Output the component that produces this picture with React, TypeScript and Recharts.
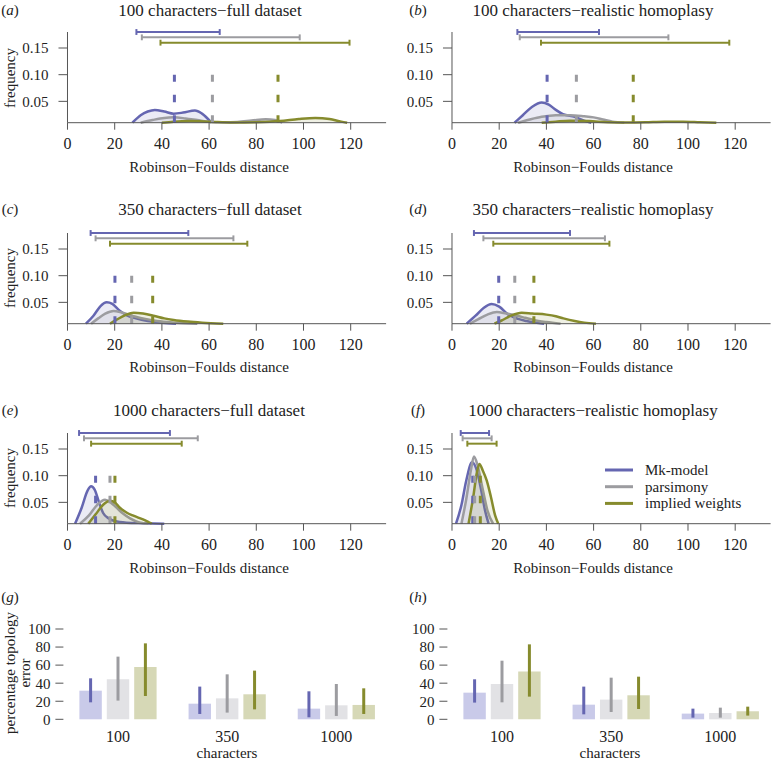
import { ComposedChart, Area, XAxis, YAxis, ReferenceLine, BarChart, Bar, ErrorBar } from "recharts";

const FONT = "'Liberation Serif', 'Times New Roman', serif";
const BLUE = "#6566b1";
const GRAY = "#9c9ca0";
const OLIVE = "#868b2d";
const COLORS = [BLUE, GRAY, OLIVE];
const BAR_FILLS = ["#c9cae9", "#e2e2e5", "#d6d8b6"];
const AXIS = "#555";
const INK = "#222";

const SERIES = ["Mk-model", "parsimony", "implied weights"];
const KEYS = ["mk", "pars", "iw"];
const X_TICKS = [0, 20, 40, 60, 80, 100, 120];
const Y_TICKS = [0.05, 0.1, 0.15];
const BAR_TICKS = [0, 20, 40, 60, 80, 100];
const RANGE_LEVELS = [0.18, 0.17, 0.16];

// density curves, [distance, frequency]
const aMk = [[27.5, 0.01], [31, 0.024], [34, 0.031], [37, 0.034], [41, 0.031], [45, 0.027], [49, 0.029], [54, 0.033], [57, 0.027], [61, 0.01]];
const aPars = [[31, 0.01], [36, 0.015], [41, 0.019], [45, 0.02], [50, 0.018], [55, 0.015], [60, 0.012], [66, 0.011], [72, 0.0115], [78, 0.014], [84, 0.0165], [88, 0.015], [91, 0.01]];
const aIw = [[40, 0.01], [45, 0.012], [52, 0.013], [60, 0.012], [70, 0.0105], [80, 0.011], [90, 0.013], [98, 0.017], [105, 0.019], [111, 0.017], [116, 0.012], [118.5, 0.01]];
const aRanges = [[29.2, 64.5], [31.5, 98.4], [39.4, 119.5]];
const aMedians = [45.3, 61.4, 89.2];

const bMk = [[26.5, 0.01], [30, 0.024], [34, 0.04], [38, 0.048], [41, 0.044], [44, 0.034], [47, 0.026], [52, 0.021], [56, 0.014], [59, 0.01]];
const bPars = [[28, 0.01], [33, 0.016], [38, 0.021], [44, 0.024], [50, 0.024], [56, 0.022], [60, 0.02], [64, 0.016], [68, 0.012], [73, 0.01]];
const bIw = [[38, 0.01], [44, 0.012], [50, 0.0135], [58, 0.013], [66, 0.011], [74, 0.0105], [82, 0.011], [90, 0.012], [98, 0.012], [105, 0.011], [112, 0.01]];
const bRanges = [[27.7, 62.3], [28.7, 91.7], [37.7, 117.5]];
const bMedians = [40.3, 52.7, 76.8];

const cMk = [[7.8, 0.01], [11, 0.025], [14, 0.043], [16.6, 0.05], [19, 0.047], [22, 0.035], [25, 0.026], [29, 0.02], [34, 0.015], [40, 0.012], [46, 0.01]];
const cPars = [[10, 0.01], [13, 0.02], [16, 0.029], [19.5, 0.034], [23, 0.031], [28, 0.024], [33, 0.019], [38, 0.015], [45, 0.012], [55, 0.01]];
const cIw = [[18, 0.01], [21, 0.018], [24.5, 0.026], [28, 0.0305], [32, 0.029], [36.5, 0.025], [41, 0.02], [45, 0.017], [51, 0.014], [57, 0.012], [66, 0.01]];
const cRanges = [[9.8, 51.2], [11.9, 70.3], [18, 76.2]];
const cMedians = [20.1, 27.2, 36.1];

const dMk = [[6.2, 0.01], [10, 0.025], [13.5, 0.04], [16.8, 0.047], [20, 0.042], [23.9, 0.027], [28, 0.019], [31.6, 0.015], [35, 0.012], [39, 0.01]];
const dPars = [[7.6, 0.01], [11, 0.018], [15, 0.027], [19, 0.032], [23, 0.029], [27.5, 0.025], [31, 0.021], [34.5, 0.017], [40, 0.013], [46, 0.01]];
const dIw = [[18, 0.01], [21, 0.016], [25, 0.025], [29.5, 0.0305], [34, 0.029], [40, 0.027], [44, 0.024], [47.2, 0.02], [52, 0.015], [56, 0.012], [61, 0.01]];
const dRanges = [[9.3, 50], [13.3, 64.8], [17.5, 66.7]];
const dMedians = [19.8, 26.6, 34.7];

const eMk = [[3.2, 0.01], [6, 0.04], [8.5, 0.072], [10, 0.08], [11.5, 0.074], [13.5, 0.048], [15.1, 0.03], [17.5, 0.02], [20, 0.015], [25, 0.012], [32, 0.011], [41, 0.01]];
const ePars = [[5.3, 0.01], [9, 0.025], [12.5, 0.045], [15.9, 0.055], [18.5, 0.049], [20.8, 0.04], [23.5, 0.029], [26.5, 0.02], [30.7, 0.012], [34.2, 0.01]];
const eIw = [[8.8, 0.01], [12, 0.028], [15, 0.045], [18, 0.053], [20, 0.05], [22.2, 0.04], [25, 0.031], [27.9, 0.025], [32, 0.018], [34, 0.014], [35.7, 0.01]];
const eRanges = [[4.9, 43.4], [7, 55.2], [10, 48.4]];
const eMedians = [11.9, 18, 20.1];

const fMk = [[1.7, 0.01], [4, 0.045], [6, 0.09], [8.5, 0.125], [10.5, 0.11], [12.5, 0.07], [14, 0.035], [15.5, 0.01]];
const fPars = [[4, 0.01], [6, 0.055], [8, 0.11], [9.3, 0.136], [10.8, 0.12], [13, 0.075], [15, 0.035], [17.4, 0.01]];
const fIw = [[7, 0.01], [9, 0.06], [10.5, 0.105], [11.6, 0.122], [13, 0.11], [14.7, 0.091], [16.5, 0.06], [18.3, 0.025], [19.6, 0.01]];
const fRanges = [[3.7, 15.7], [4.5, 16.8], [6.5, 18.9]];
const fMedians = [8.8, 9.6, 12];

// percentage topology error
const CATEGORIES = ["100", "350", "1000"];
const gMk = [31.7, 17.3, 11.8];
const gPars = [44.3, 23.2, 15.5];
const gIw = [57.9, 27.7, 15.9];
const gLow = [[18.8, 5.9, 2.2], [20.7, 7.4, 3.7], [25.8, 11, 5.9]];
const gHigh = [[45.4, 36.2, 31], [69.4, 49.8, 39.1], [84.1, 53.9, 34.3]];

const hMk = [29.5, 16.2, 6.3];
const hPars = [39.1, 21.8, 7];
const hIw = [52.8, 26.6, 8.9];
const hLow = [[18.5, 5.5, 1.8], [18.8, 8.1, 1.8], [25.1, 11.4, 4.1]];
const hHigh = [[44.3, 36.2, 11.8], [64.9, 46.1, 12.9], [83, 47.2, 14]];

function buildRows(series: number[][][]) {
  const xs = Array.from(new Set(series.flatMap((s) => s.map((p) => p[0])))).sort((a, b) => a - b);
  return xs.map((x) => {
    const row: any = { x };
    series.forEach((s, i) => {
      const p = s.find((q) => q[0] === x);
      row[KEYS[i]] = p ? p[1] : null;
    });
    return row;
  });
}

function buildBarRows(values: number[][], low: number[][], high: number[][]) {
  return CATEGORIES.map((cat, j) => {
    const row: any = { cat };
    KEYS.forEach((k, i) => {
      row[k] = values[i][j];
      row[k + "Err"] = [values[i][j] - low[i][j], high[i][j] - values[i][j]];
    });
    return row;
  });
}

const tickFont = (size: number) => ({ fill: INK, fontSize: size, fontFamily: FONT });

function DensityPanel({ left, top, axisWidth, series, ranges, medians }: any) {
  const rows = buildRows(series);
  const plotWidth = 318.6;
  return (
    <div style={{ position: "absolute", left, top, fontFamily: FONT }}>
      <ComposedChart width={axisWidth + plotWidth + 1} height={200} data={rows} margin={{ top: 32, right: 1, bottom: 0, left: 0 }}
        style={{ fontFamily: FONT }}>
        <XAxis dataKey="x" type="number" domain={[0, 135]} ticks={X_TICKS} interval={0} height={77.3} tickSize={7} tickMargin={8}
          stroke={AXIS} tick={tickFont(16)} />
        <YAxis type="number" domain={[0.01, 0.18]} ticks={Y_TICKS} interval={0} width={axisWidth} tickSize={9} tickMargin={10}
          stroke={AXIS} tickFormatter={(v: number) => v.toFixed(2)} tick={tickFont(15)} />
        {KEYS.map((k, i) => (
          <Area key={k} dataKey={k} type="monotone" stroke={COLORS[i]} strokeWidth={2.5} fill={COLORS[i]} fillOpacity={0.13}
            connectNulls dot={false} activeDot={false} isAnimationActive={false} />
        ))}
        {ranges.map(([lo, hi]: number[], i: number) => (
          <ReferenceLine key={"r" + i} segment={[{ x: lo, y: RANGE_LEVELS[i] }, { x: hi, y: RANGE_LEVELS[i] }]}
            stroke={COLORS[i]} strokeWidth={2} ifOverflow="visible" />
        ))}
        {ranges.flatMap(([lo, hi]: number[], i: number) =>
          [lo, hi].map((v, j) => (
            <ReferenceLine key={"c" + i + j} segment={[{ x: v, y: RANGE_LEVELS[i] - 0.0055 }, { x: v, y: RANGE_LEVELS[i] + 0.0055 }]}
              stroke={COLORS[i]} strokeWidth={2} ifOverflow="visible" />
          ))
        )}
        {medians.map((m: number, i: number) => (
          <ReferenceLine key={"m" + i} segment={[{ x: m, y: 0.01 }, { x: m, y: 0.1 }]} stroke={COLORS[i]} strokeWidth={3}
            strokeDasharray="7.5 13" ifOverflow="visible" />
        ))}
      </ComposedChart>
    </div>
  );
}

function BarPanel({ left, top, rows }: any) {
  return (
    <div style={{ position: "absolute", left, top, fontFamily: FONT }}>
      <BarChart width={395} height={161} data={rows} margin={{ top: 29, right: 4.1, bottom: 0, left: 0 }} barSize={22.4} barGap={5}
        style={{ fontFamily: FONT }}>
        <XAxis dataKey="cat" height={41.7} interval={0} axisLine={false} tickLine={false} tickSize={0} tickMargin={11}
          tick={tickFont(16)} />
        <YAxis type="number" domain={[0, 100]} ticks={BAR_TICKS} interval={0} width={63.4} axisLine={false} tickSize={8} tickMargin={5}
          stroke={AXIS} tick={tickFont(15)} />
        {KEYS.map((k, i) => (
          <Bar key={k} dataKey={k} fill={BAR_FILLS[i]} isAnimationActive={false}>
            <ErrorBar dataKey={k + "Err"} width={0} stroke={COLORS[i]} strokeWidth={3} />
          </Bar>
        ))}
      </BarChart>
    </div>
  );
}

function PanelLabel({ x, y, letter }: any) {
  return (
    <text x={x} y={y} textAnchor="middle" dominantBaseline="central" fontSize={15} fill={INK}>
      (<tspan fontStyle="italic">{letter}</tspan>)
    </text>
  );
}

export default function App() {
  const titles = [
    { x: 210, y: 10, t: "100 characters\u2212full dataset" },
    { x: 593, y: 10, t: "100 characters\u2212realistic homoplasy" },
    { x: 210, y: 209, t: "350 characters\u2212full dataset" },
    { x: 593, y: 209, t: "350 characters\u2212realistic homoplasy" },
    { x: 209, y: 410, t: "1000 characters\u2212full dataset" },
    { x: 593, y: 410, t: "1000 characters\u2212realistic homoplasy" },
  ];
  const rowTops = [0, 200.5, 401];
  return (
    <div style={{ position: "absolute", left: 0, top: 0, width: 771, height: 761, overflow: "hidden", background: "#fff", fontFamily: FONT }}>
      <style>{`svg text, svg tspan { font-family: ${FONT}; }`}</style>
      <DensityPanel left={0} top={rowTops[0]} axisWidth={67.5} series={[aMk, aPars, aIw]} ranges={aRanges} medians={aMedians} />
      <DensityPanel left={385} top={rowTops[0]} axisWidth={67} series={[bMk, bPars, bIw]} ranges={bRanges} medians={bMedians} />
      <DensityPanel left={0} top={rowTops[1]} axisWidth={67.5} series={[cMk, cPars, cIw]} ranges={cRanges} medians={cMedians} />
      <DensityPanel left={385} top={rowTops[1]} axisWidth={67} series={[dMk, dPars, dIw]} ranges={dRanges} medians={dMedians} />
      <DensityPanel left={0} top={rowTops[2]} axisWidth={67.5} series={[eMk, ePars, eIw]} ranges={eRanges} medians={eMedians} />
      <DensityPanel left={385} top={rowTops[2]} axisWidth={67} series={[fMk, fPars, fIw]} ranges={fRanges} medians={fMedians} />
      <BarPanel left={0} top={600} rows={buildBarRows([gMk, gPars, gIw], gLow, gHigh)} />
      <BarPanel left={383.7} top={600} rows={buildBarRows([hMk, hPars, hIw], hLow, hHigh)} />
      <svg width={771} height={761} style={{ position: "absolute", left: 0, top: 0, pointerEvents: "none" }} fontFamily={FONT}>
        {titles.map((d) => (
          <text key={d.t} x={d.x} y={d.y} textAnchor="middle" dominantBaseline="central" fontSize={17} fill={INK}>{d.t}</text>
        ))}
        <PanelLabel x={10} y={10} letter="a" />
        <PanelLabel x={418} y={10} letter="b" />
        <PanelLabel x={10} y={209} letter="c" />
        <PanelLabel x={418} y={209} letter="d" />
        <PanelLabel x={10} y={410} letter="e" />
        <PanelLabel x={418} y={410} letter="f" />
        <PanelLabel x={10} y={597} letter="g" />
        <PanelLabel x={418} y={597} letter="h" />
        {[167, 367, 568].map((y) => [209, 593].map((x) => (
          <text key={x + "-" + y} x={x} y={y} textAnchor="middle" dominantBaseline="central" fontSize={15} fill={INK}>Robinson{"\u2212"}Foulds distance</text>
        )))}
        {[78, 278, 478].map((y) => (
          <text key={"f" + y} x={10} y={y} transform={`rotate(-90 10 ${y})`} textAnchor="middle" dominantBaseline="central" fontSize={15} fill={INK}>frequency</text>
        ))}
        <text x={10} y={673} transform="rotate(-90 10 673)" textAnchor="middle" dominantBaseline="central" fontSize={15} fill={INK}>percentage topology</text>
        <text x={25} y={673} transform="rotate(-90 25 673)" textAnchor="middle" dominantBaseline="central" fontSize={15} fill={INK}>error</text>
        <text x={227} y={753} textAnchor="middle" dominantBaseline="central" fontSize={15} fill={INK}>characters</text>
        <text x={610} y={753} textAnchor="middle" dominantBaseline="central" fontSize={15} fill={INK}>characters</text>
        {SERIES.map((s, i) => (
          <g key={s}>
            <line x1={605} x2={633} y1={470 + i * 16.7} y2={470 + i * 16.7} stroke={COLORS[i]} strokeWidth={3} />
            <text x={645} y={470 + i * 16.7} dominantBaseline="central" fontSize={15} fill={INK}>{s}</text>
          </g>
        ))}
      </svg>
    </div>
  );
}
